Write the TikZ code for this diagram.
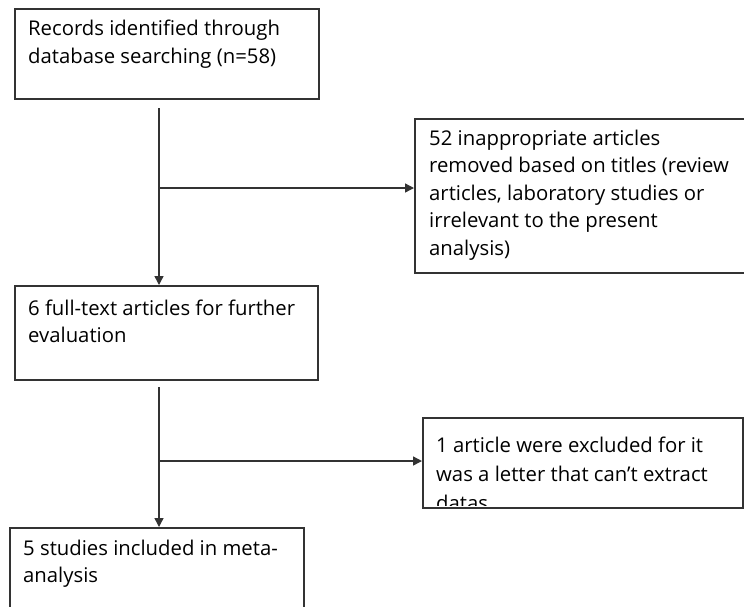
\documentclass[tikz,border=0pt]{standalone}
\usepackage{fontspec}
\setmainfont{Open Sans}
\usetikzlibrary{arrows.meta,calc}
\begin{document}
\begin{tikzpicture}[x=1pt,y=-1pt,
  box/.style={draw=black!80,line width=1.6pt,rectangle,inner sep=0pt,anchor=north west},
  txt/.style={anchor=north west,align=left,inner sep=0pt,font=\fontsize{20.3}{27.5}\selectfont,text=black},
  arr/.style={draw=black!80,line width=1.4pt,-{Triangle[length=9pt,width=9pt]}},
  ln/.style={draw=black!80,line width=1.4pt}]
\useasboundingbox (0,0) rectangle (744,606);
\fill[white] (0,0) rectangle (744,606);
\node[box,minimum width=304,minimum height=90] (b1) at (14,8) {};
\node[box,minimum width=336,minimum height=154] (b2) at (414,118) {};
\node[box,minimum width=303,minimum height=94] (b3) at (14,285) {};
\node[box,minimum width=320,minimum height=90] (b4) at (422,417) {};
\node[box,minimum width=294,minimum height=100] (b5) at (9,527) {};
\node[txt] (t1) at ($(b1.north west)+(14,12)$) {Records identified through\\database searching (n=58)};
\node[txt] (t2) at ($(b2.north west)+(15,11.5)$) {52 inappropriate articles\\removed based on titles (review\\articles, laboratory studies or\\irrelevant to the present\\analysis)};
\node[txt] (t3) at ($(b3.north west)+(14,14.5)$) {6 full-text articles for further\\evaluation};
\begin{scope}
\clip ($(b4.north west)+(1,1)$) rectangle ($(b4.south east)+(-1,-3)$);
\node[txt,font=\fontsize{20.3}{29}\selectfont] (t4) at ($(b4.north west)+(14,20)$) {1 article were excluded for it\\was a letter that can’t extract\\datas};
\end{scope}
\node[txt] (t5) at ($(b5.north west)+(14,12.5)$) {5 studies included in meta-\\analysis};
\coordinate (s1) at (159,108);
\coordinate (j1) at (159,188);
\coordinate (s2) at (159,387);
\coordinate (j2) at (159,461);
\draw[arr] (s1) -- (s1 |- b3.north);
\draw[arr] (j1) -- (j1 -| b2.west);
\draw[arr] (s2) -- (s2 |- b5.north);
\draw[arr] (j2) -- (j2 -| b4.west);
\end{tikzpicture}
\end{document}
